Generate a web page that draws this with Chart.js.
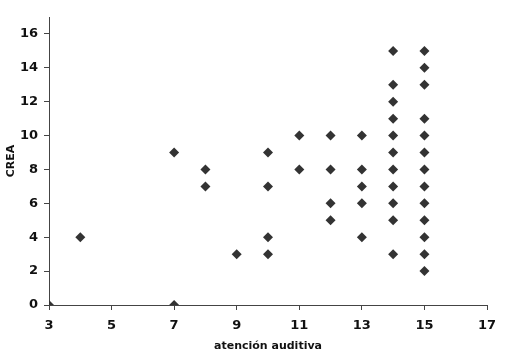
<!DOCTYPE html>
<html>
<head>
<meta charset="utf-8">
<script src="https://cdn.jsdelivr.net/npm/chart.js@4/dist/chart.umd.min.js"></script>
<style>
  html, body { margin: 0; padding: 0; background: #fff; }
  #wrap { width: 508px; height: 364px; }
</style>
</head>
<body>
<div id="wrap"><canvas id="chart"></canvas></div>
<script>
// atención auditiva (x) vs CREA (y)
const xValues = [3, 4, 7, 7, 8, 8, 9, 10, 10, 10, 10, 11, 11, 12, 12, 12, 12,
  13, 13, 13, 13, 13,
  14, 14, 14, 14, 14, 14, 14, 14, 14, 14, 14,
  15, 15, 15, 15, 15, 15, 15, 15, 15, 15, 15, 15, 15];
const yValues = [0, 4, 9, 0, 8, 7, 3, 9, 7, 4, 3, 10, 8, 10, 8, 6, 5,
  10, 8, 7, 6, 4,
  15, 13, 12, 11, 10, 9, 8, 7, 6, 5, 3,
  15, 14, 13, 11, 10, 9, 8, 7, 6, 5, 4, 3, 2];
const xTitle = 'atención auditiva';
const yTitle = 'CREA';

const points = xValues.map((x, i) => ({ x: x, y: yValues[i] }));

const axisColor = '#444';
const tickFont = { family: 'DejaVu Sans', size: 13, weight: 'bold' };
const titleFont = { family: 'DejaVu Sans', size: 11, weight: 'bold' };

new Chart(document.getElementById('chart'), {
  type: 'scatter',
  data: {
    datasets: [{
      label: yTitle,
      data: points,
      pointStyle: 'rectRot',
      pointRadius: 5,
      pointHoverRadius: 5,
      backgroundColor: '#333',
      borderColor: '#333',
      borderWidth: 0
    }]
  },
  options: {
    responsive: true,
    maintainAspectRatio: false,
    animation: false,
    layout: { padding: { left: 5, right: 21, top: 17, bottom: 7 } },
    plugins: {
      legend: { display: false },
      tooltip: { enabled: false }
    },
    scales: {
      x: {
        type: 'linear',
        min: 3,
        max: 17,
        afterFit: (axis) => { axis.height = 52; },
        ticks: { stepSize: 2, color: '#111', font: tickFont, padding: 8 },
        grid: { drawOnChartArea: false, drawTicks: true, tickLength: 5, color: axisColor },
        border: { color: axisColor, width: 1 },
        title: { display: true, text: xTitle, color: '#111', font: titleFont, padding: { top: 4 } }
      },
      y: {
        type: 'linear',
        min: 0,
        max: 17,
        afterFit: (axis) => { axis.width = 44; },
        ticks: { stepSize: 2, includeBounds: false, color: '#111', font: tickFont, padding: 6 },
        grid: { drawOnChartArea: false, drawTicks: true, tickLength: 5, color: axisColor },
        border: { color: axisColor, width: 1 },
        title: { display: true, text: yTitle, color: '#111', font: titleFont, padding: 0 }
      }
    }
  }
});
</script>
</body>
</html>
